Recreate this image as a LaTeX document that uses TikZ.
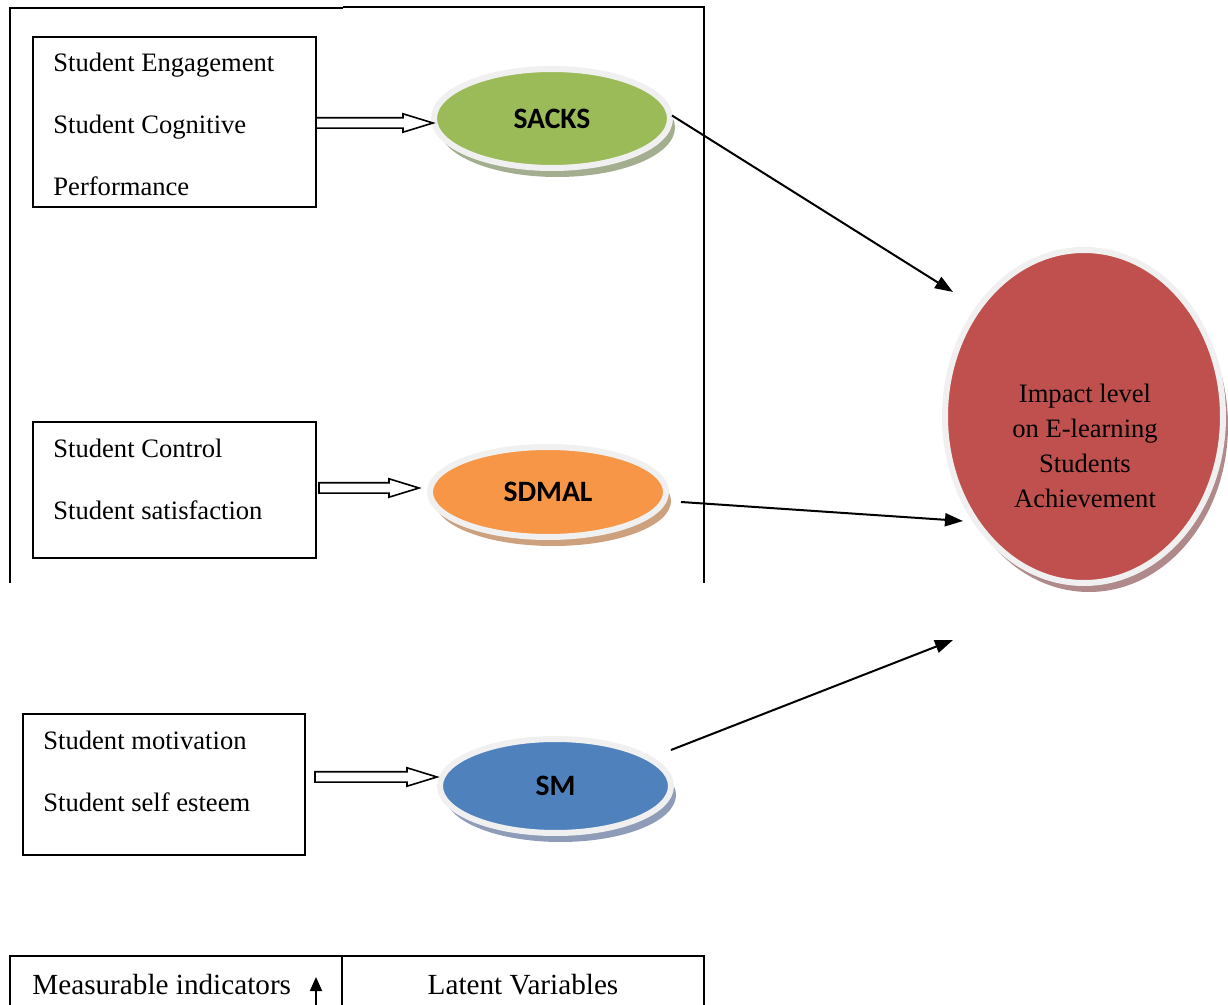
\documentclass[tikz,border=0pt]{standalone}
\usepackage{fontspec}
\setmainfont{Liberation Serif}
\newfontfamily\calib{Carlito}
\usetikzlibrary{shapes.geometric,shadows,arrows.meta,fit,calc}
\definecolor{cgreen}{HTML}{9BBB59}
\definecolor{corange}{HTML}{F79646}
\definecolor{cblue}{HTML}{4F81BD}
\definecolor{cred}{HTML}{C0504D}
\definecolor{sgreen}{HTML}{A2AE8E}
\definecolor{sorange}{HTML}{CDA07E}
\definecolor{sblue}{HTML}{8E9CB8}
\definecolor{sred}{HTML}{B08A8A}
\definecolor{ringc}{HTML}{F0F0F0}
\tikzset{
  frameline/.style={line width=1pt, black},
  indbox/.style={draw=black, line width=0.9pt, inner sep=0pt, outer sep=0pt},
  itxt/.style={anchor=base west, inner sep=0pt, font=\fontsize{13.3}{16}\selectfont},
  ctxt/.style={anchor=base, inner sep=0pt, font=\fontsize{13.3}{16}\selectfont},
  ttxt/.style={inner sep=0pt, font=\fontsize{14.6}{17}\selectfont},
  latent/.style={ellipse, draw=ringc, line width=3pt, inner sep=0pt, outer sep=0pt,
    font=\calib\bfseries\fontsize{14.8}{17}\selectfont,
    drop shadow={shadow xshift=2.5pt, shadow yshift=-4.5pt, fill=#1, opacity=1}},
  hol/.style={draw=black, fill=white, line width=0.8pt, line join=miter},
  arr/.style={line width=1pt, -{Triangle[length=9pt,width=6.5pt]}},
}
\newcommand\hollowarr[2]{%
  \draw[hol] let \p1=(#1), \p2=(#2) in
    (\x1,\y1-2.6pt) -- (\x2-15pt,\y1-2.6pt) -- (\x2-15pt,\y1-4.6pt) -- (\x2,\y1)
    -- (\x2-15pt,\y1+4.6pt) -- (\x2-15pt,\y1+2.6pt) -- (\x1,\y1+2.6pt) -- cycle;}
\begin{document}
\begin{tikzpicture}[x=0.5pt, y=-0.5pt]
\useasboundingbox (0,0) rectangle (1228,1005);

% outer frame (open at bottom)
\draw[frameline] (10,583) -- (10,8) -- (343,8);
\draw[frameline] (343,7) -- (704,7) -- (704,583);

% indicator boxes
\node[indbox, fit={(33,37) (316,207)}] (b1) {};
\node[itxt] (t11) at (53,72) {Student Engagement};
\node[itxt] (t12) at (53,134) {Student Cognitive};
\node[itxt] (t13) at (53,196) {Performance};

\node[indbox, fit={(33,422) (316,558)}] (b2) {};
\node[itxt] (t21) at (53,458) {Student Control};
\node[itxt] (t22) at (53,520) {Student satisfaction};

\node[indbox, fit={(23,714) (305,855)}] (b3) {};
\node[itxt] (t31) at (43,750) {Student motivation};
\node[itxt] (t32) at (43,812) {Student self esteem};

% latent variables
\node[latent=sgreen, fill=cgreen, minimum width=118pt, minimum height=49.5pt] (sacks) at (552,118.5) {SACKS};
\node[latent=sorange, fill=corange, minimum width=118pt, minimum height=45pt] (sdmal) at (548,492) {SDMAL};
\node[latent=sblue, fill=cblue, minimum width=115.5pt, minimum height=47pt] (sm) at (555.5,786) {SM};

% outcome
\node[latent=sred, fill=cred, minimum width=139pt, minimum height=166.5pt] (imp) at (1084,416.5) {};
\node[ctxt] (i1) at (1085,403) {Impact level};
\node[ctxt] (i2) at (1085,438) {on E-learning};
\node[ctxt] (i3) at (1085,473) {Students};
\node[ctxt] (i4) at (1085,508) {Achievement};

% hollow arrows
\coordinate (h1s) at (316,123); \coordinate (h1e) at (433,123);
\coordinate (h2s) at (319,488); \coordinate (h2e) at (419,488);
\coordinate (h3s) at (315,777); \coordinate (h3e) at (437,777);
\hollowarr{h1s}{h1e}
\hollowarr{h2s}{h2e}
\hollowarr{h3s}{h3e}

% black arrows
\coordinate (e1) at (953,292);
\coordinate (e2) at (963,521);
\coordinate (e3) at (953,640);
\draw[arr] ([xshift=1pt,yshift=1.5pt]sacks.east) -- (e1);
\draw[arr] ([xshift=7.5pt,yshift=-5pt]sdmal.east) -- (e2);
\draw[arr] ([yshift=18pt]sm.east) -- (e3);

% legend table
\draw[frameline] (10,1006) -- (10,956) -- (704,956) -- (704,1006);
\draw[frameline] (342,956) -- (342,1006);
\node[ttxt, anchor=base west] (m1) at (32,994) {Measurable indicators};
\node[ttxt, anchor=base] (m2) at (523,994) {Latent Variables};
\coordinate (ua) at (316,1005);
\coordinate (ub) at (316,977);
\draw[line width=0.9pt, -{Triangle[length=7pt,width=6pt]}] (ua) -- (ub);
\end{tikzpicture}
\end{document}
